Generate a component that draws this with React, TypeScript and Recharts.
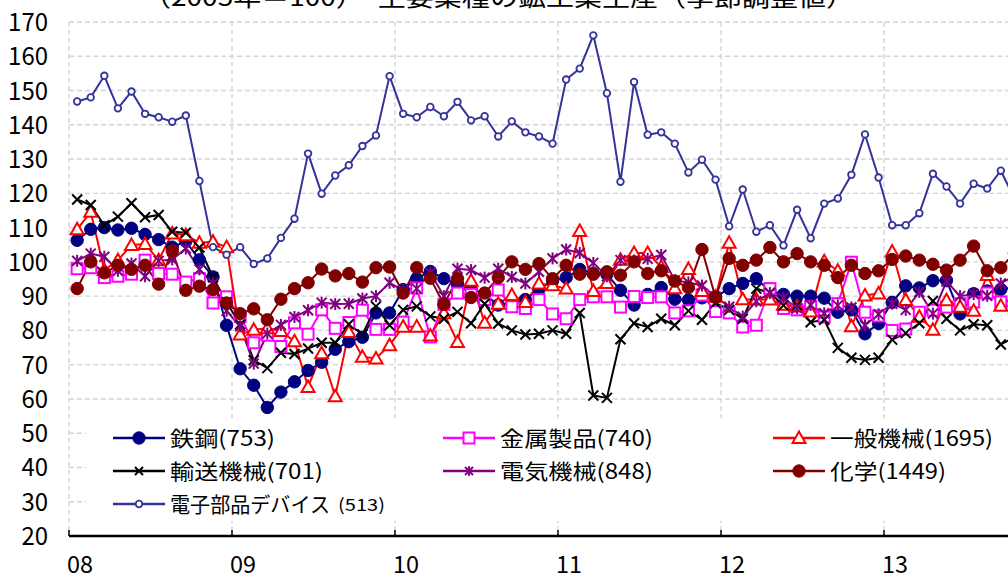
import React from 'react';
import { LineChart, Line, XAxis, YAxis, CartesianGrid } from 'recharts';

// 月次データ 2008年1月〜2013年10月（2005年=100、季節調整値）
const yearLabels = ['08', '09', '10', '11', '12', '13'];
const yTicks = [20, 30, 40, 50, 60, 70, 80, 90, 100, 110, 120, 130, 140, 150, 160, 170];
const xTicks = [0, 12, 24, 36, 48, 60, 72];

const steel = [
  106.3, 109.5, 110.0, 109.3, 109.8, 108.0, 106.5, 104.3, 106.0, 100.6, 95.6, 81.5,
  68.8, 64.0, 57.5, 62.0, 65.0, 68.3, 70.7, 74.5, 76.7, 78.0, 85.1, 85.1,
  91.9, 95.1, 97.2, 95.1, 93.5, 92.2, 90.5, 87.4, 88.0, 89.0, 92.0, 94.5,
  95.4, 97.8, 96.6, 96.4, 91.7, 87.4, 90.5, 92.5, 89.1, 88.9, 89.5, 89.8,
  92.2, 93.7, 95.1, 91.5, 90.5, 90.0, 90.0, 89.4, 85.3, 86.0, 79.0, 82.0,
  88.2, 93.0, 92.4, 94.5, 94.6, 84.8, 90.7, 91.5, 92.0, 92.5,
];
const metal = [
  98.0, 98.3, 95.4, 95.8, 96.4, 100.5, 96.6, 96.4, 94.1, 95.1, 88.0, 89.8,
  84.1, 76.4, 78.6, 75.3, 82.2, 78.9, 86.0, 80.6, 82.3, 85.9, 80.3, 80.3,
  82.4, 92.4, 78.1, 87.6, 90.9, 90.5, 89.0, 91.8, 86.9, 86.4, 89.0, 84.8,
  83.4, 89.0, 89.8, 89.8, 86.8, 89.9, 89.6, 89.8, 85.1, 85.7, 90.3, 85.5,
  85.1, 81.0, 81.5, 92.2, 86.4, 86.0, 87.0, 83.9, 87.8, 99.9, 85.3, 84.2,
  80.0, 80.4, 85.3, 85.9, 86.8, 87.8, 88.3, 90.9, 88.3, 86.0,
];
const general = [
  109.5, 114.6, 97.6, 100.5, 104.9, 105.2, 100.5, 108.3, 107.8, 105.6, 105.9, 104.3,
  78.8, 80.2, 80.6, 79.8, 76.8, 63.5, 73.3, 60.8, 79.5, 72.3, 71.8, 75.7,
  81.1, 81.1, 78.5, 85.0, 76.6, 94.5, 82.2, 87.8, 90.3, 88.3, 93.7, 93.2,
  92.2, 109.0, 91.5, 93.8, 100.6, 102.6, 102.6, 98.5, 92.3, 97.9, 91.5, 89.8,
  105.6, 89.1, 89.0, 89.0, 87.5, 87.0, 85.5, 100.2, 97.4, 81.2, 90.2, 90.8,
  103.0, 88.9, 84.0, 80.2, 88.8, 86.9, 85.7, 96.2, 87.2, 90.0,
];
const transport = [
  118.2, 116.6, 110.7, 113.2, 117.1, 113.0, 113.7, 108.8, 108.5, 104.2, 95.5, 88.2,
  81.7, 71.3, 69.0, 73.5, 73.1, 74.7, 76.4, 76.4, 81.8, 78.8, 87.0, 81.5,
  86.0, 87.0, 84.1, 83.4, 85.4, 82.1, 87.8, 82.0, 80.0, 78.8, 79.0, 80.0,
  79.0, 85.1, 61.0, 60.3, 77.4, 82.1, 81.0, 83.4, 81.5, 85.7, 83.1, 88.0,
  86.0, 83.4, 92.2, 90.9, 87.3, 87.3, 82.4, 83.1, 74.9, 72.0, 71.4, 72.0,
  77.3, 79.2, 82.1, 88.6, 83.4, 80.0, 81.8, 81.5, 75.9, 78.0,
];
const electric = [
  100.3, 102.4, 101.5, 97.4, 99.5, 95.8, 100.3, 100.7, 103.9, 97.8, 93.8, 85.7,
  81.2, 70.3, 79.1, 81.6, 83.9, 85.9, 88.1, 87.7, 87.8, 89.3, 90.0, 93.9,
  91.7, 92.2, 96.8, 90.0, 98.0, 97.6, 95.4, 98.0, 95.6, 93.7, 97.1, 101.0,
  103.6, 102.6, 99.7, 95.8, 100.5, 100.4, 100.9, 102.0, 94.6, 94.0, 93.1, 89.8,
  86.9, 84.0, 88.5, 90.9, 89.5, 86.5, 87.4, 85.0, 87.3, 86.7, 81.5, 84.7,
  87.8, 86.0, 91.2, 84.9, 94.3, 90.0, 90.6, 90.1, 93.7, 96.0,
];
const chemical = [
  92.2, 100.0, 96.8, 99.0, 97.8, 99.0, 93.5, 103.2, 91.7, 92.9, 91.9, 88.0,
  84.9, 86.3, 83.1, 89.1, 92.2, 93.9, 97.9, 95.9, 96.6, 94.1, 98.3, 98.5,
  90.9, 98.3, 95.2, 87.6, 95.1, 89.6, 90.9, 95.4, 100.0, 97.8, 99.5, 95.1,
  99.0, 96.4, 96.4, 97.1, 96.1, 100.0, 96.6, 97.4, 94.4, 92.5, 103.6, 89.6,
  101.0, 99.0, 100.5, 104.2, 100.0, 102.4, 100.0, 99.0, 95.4, 99.0, 96.6, 97.4,
  100.7, 101.7, 100.5, 99.3, 97.6, 100.5, 104.6, 97.4, 98.3, 102.5,
];
const electronics = [
  146.8, 148.0, 154.3, 144.8, 149.7, 143.2, 142.2, 140.9, 142.7, 123.6, 104.3, 102.1,
  104.3, 99.4, 101.0, 107.0, 112.6, 131.6, 119.9, 125.2, 128.2, 133.8, 136.9, 154.2,
  143.2, 142.2, 145.2, 142.5, 146.7, 141.3, 142.5, 136.6, 141.0, 137.8, 136.6, 134.5,
  153.2, 156.4, 166.1, 149.2, 123.4, 152.5, 137.1, 137.8, 134.5, 126.1, 129.8, 124.0,
  110.4, 121.1, 108.8, 110.7, 104.8, 115.2, 106.9, 117.0, 118.5, 125.4, 137.2, 124.6,
  110.7, 110.7, 114.2, 125.7, 122.0, 117.0, 122.8, 121.4, 126.6, 118.5,
];

const series = [
  { key: 'steel', label: '鉄鋼(753)', color: '#000080', marker: 'disc', values: steel },
  { key: 'metal', label: '金属製品(740)', color: '#FF00FF', marker: 'square', values: metal },
  { key: 'general', label: '一般機械(1695)', color: '#FF0000', marker: 'triangle', values: general },
  { key: 'transport', label: '輸送機械(701)', color: '#000000', marker: 'cross', values: transport },
  { key: 'electric', label: '電気機械(848)', color: '#800080', marker: 'star', values: electric },
  { key: 'chemical', label: '化学(1449)', color: '#800000', marker: 'disc', values: chemical },
  { key: 'electronics', label: '電子部品デバイス', color: '#333399', marker: 'ring', values: electronics },
];

const FONT = "'Noto Sans CJK JP', 'Noto Sans', sans-serif";
const CHART_W = 1047;
const LEFT = 69;

function drawMarker(marker: string, color: string, cx: number, cy: number, k: string, scale = 1) {
  const s = scale;
  switch (marker) {
    case 'disc':
      return <circle key={k} cx={cx} cy={cy} r={6.2 * s} fill={color} stroke={color} strokeWidth={1} />;
    case 'square':
      return <rect key={k} x={cx - 5.5 * s} y={cy - 5.5 * s} width={11 * s} height={11 * s} fill="#fff" stroke={color} strokeWidth={2} />;
    case 'triangle':
      return (
        <polygon key={k} points={`${cx},${cy - 6.5 * s} ${cx - 6.5 * s},${cy + 5 * s} ${cx + 6.5 * s},${cy + 5 * s}`}
          fill="#fff" stroke={color} strokeWidth={2} />
      );
    case 'cross':
      return (
        <g key={k} stroke={color} strokeWidth={2}>
          <line x1={cx - 5 * s} y1={cy - 5 * s} x2={cx + 5 * s} y2={cy + 5 * s} />
          <line x1={cx - 5 * s} y1={cy + 5 * s} x2={cx + 5 * s} y2={cy - 5 * s} />
        </g>
      );
    case 'star':
      return (
        <g key={k} stroke={color} strokeWidth={2}>
          <line x1={cx - 5 * s} y1={cy - 5 * s} x2={cx + 5 * s} y2={cy + 5 * s} />
          <line x1={cx - 5 * s} y1={cy + 5 * s} x2={cx + 5 * s} y2={cy - 5 * s} />
          <line x1={cx} y1={cy - 6 * s} x2={cx} y2={cy + 6 * s} />
        </g>
      );
    default:
      return <circle key={k} cx={cx} cy={cy} r={3.3 * s} fill="#fff" stroke={color} strokeWidth={1.8} />;
  }
}

const makeDot = (marker: string, color: string) => (p: any) => {
  const k = `${marker}-${color}-${p.index}`;
  if (p.cx == null || p.cy == null || p.value == null) return <g key={k} />;
  return drawMarker(marker, color, p.cx, p.cy, k);
};

const XTick = (props: any) => {
  const { x, y, payload } = props;
  const label = yearLabels[Math.round(payload.value / 12)];
  return (
    <g>
      <line x1={x} x2={x} y1={y} y2={y - 6} stroke="#000" strokeWidth={1.5} />
      {label && (
        <text x={x + 11} y={y + 37} textAnchor="middle" fontSize={24} fontFamily={FONT} fill="#000"
          textLength={26} lengthAdjust="spacingAndGlyphs">
          {label}
        </text>
      )}
    </g>
  );
};

const YTick = (props: any) => {
  const { x, y, payload } = props;
  const txt = String(payload.value);
  return (
    <text x={x} y={y + 9} textAnchor="end" fontSize={25} fontFamily={FONT} fill="#000"
      textLength={txt.length * 13.3} lengthAdjust="spacingAndGlyphs">
      {txt}
    </text>
  );
};

// 凡例の配置
const legendCols = [113, 443, 773];
const legendRows = [438, 471, 504];
const legendWidths = [105, 153, 163, 153, 153, 116, 160];

export default function App() {
  const data = electronics.map((_, i) => {
    const row: any = { x: i + 0.6 };
    series.forEach((s) => { row[s.key] = s.values[i]; });
    return row;
  });

  return (
    <div style={{ position: 'fixed', left: 0, top: 0, width: 1008, height: 581, overflow: 'hidden', background: '#fff', fontFamily: FONT }}>
      <LineChart width={CHART_W} height={581} data={data} margin={{ top: 22, right: 0, bottom: 15, left: 0 }}>
        <CartesianGrid stroke="#d4d4d4" strokeDasharray="5 3" strokeWidth={1.4} />
        <XAxis type="number" dataKey="x" domain={[0, 72]} ticks={xTicks} interval={0} height={30}
          axisLine={{ stroke: '#000', strokeWidth: 2.5 }} tickLine={false} tickSize={0} tickMargin={0}
          tick={<XTick />} allowDataOverflow />
        <YAxis type="number" domain={[20, 170]} ticks={yTicks} interval={0} width={LEFT}
          axisLine={false} tickLine={false} tickSize={0} tickMargin={21} tick={<YTick />} />
        {series.map((s) => (
          <Line key={s.key} type="linear" dataKey={s.key} stroke={s.color} strokeWidth={2}
            dot={makeDot(s.marker, s.color)} activeDot={false} isAnimationActive={false} />
        ))}
      </LineChart>
      <svg width={1008} height={581} style={{ position: 'absolute', left: 0, top: 0, pointerEvents: 'none' }}>
        <text x={143} y={6} fontSize={24} fontFamily={FONT} fill="#000" textLength={711} lengthAdjust="spacingAndGlyphs">
          （2005年＝100）　主要業種の鉱工業生産（季節調整値）
        </text>
        <rect x={86} y={418} width={930} height={103} fill="#fff" />
        {series.map((s, i) => {
          const cx0 = legendCols[i % 3];
          const cy = legendRows[Math.floor(i / 3)];
          const small = s.marker === 'cross' || s.marker === 'star' ? 0.8 : 1;
          return (
            <g key={s.key}>
              <line x1={cx0} x2={cx0 + 52} y1={cy} y2={cy} stroke={s.color} strokeWidth={2.5} />
              {drawMarker(s.marker, s.color, cx0 + 26, cy, `lg-${s.key}`, small)}
              <text x={cx0 + 57} y={cy + 8} fontSize={21} fontFamily={FONT} fill="#000"
                textLength={legendWidths[i]} lengthAdjust="spacingAndGlyphs">
                {s.label}
              </text>
              {s.key === 'electronics' && (
                <text x={338} y={cy + 7} fontSize={17} fontFamily={FONT} fill="#000"
                  textLength={47} lengthAdjust="spacingAndGlyphs">
                  (513)
                </text>
              )}
            </g>
          );
        })}
      </svg>
    </div>
  );
}
